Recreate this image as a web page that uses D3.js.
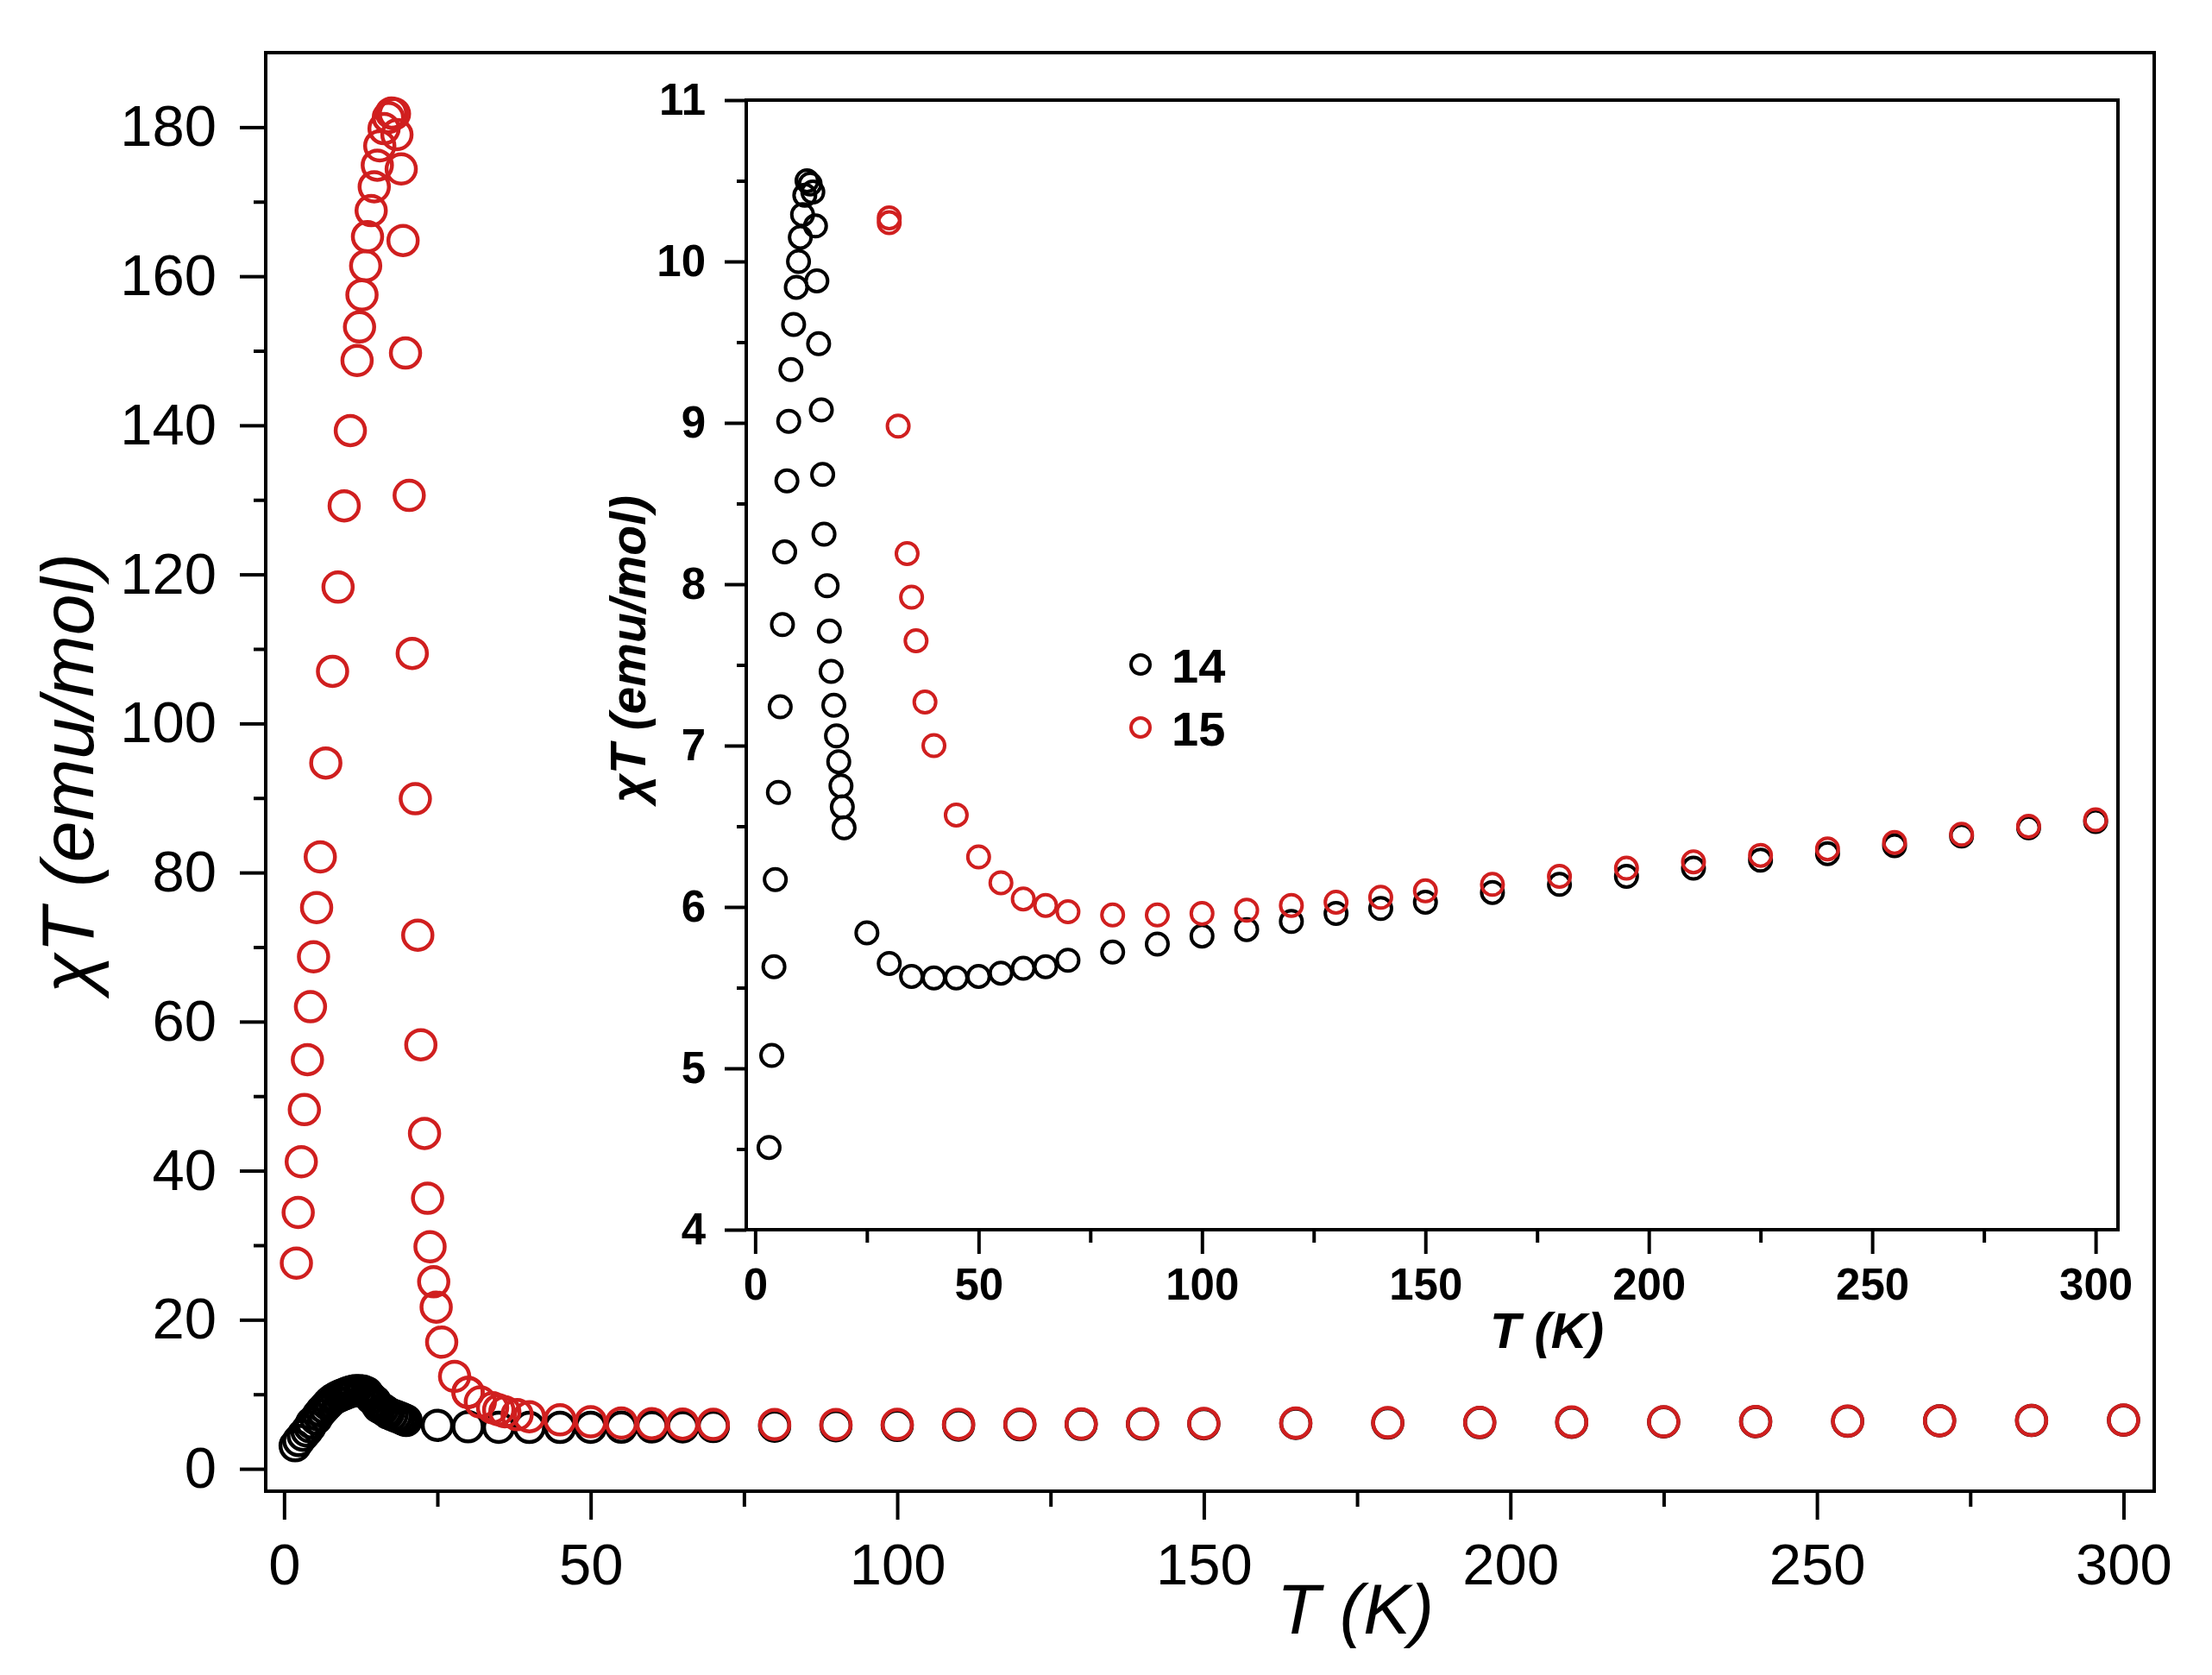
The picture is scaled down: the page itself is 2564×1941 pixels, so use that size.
<!doctype html>
<html>
  <head>
    <script src="https://cdnjs.cloudflare.com/ajax/libs/d3/7.8.5/d3.min.js" type="text/JavaScript"></script>
    <style>
      body { margin: 0; background: #fff; }
      text { font-family: "Liberation Sans", Arial, sans-serif; }
    </style>
  </head>
  <body>
    <svg width="2564" height="1941" style="display:block;background:#fff"></svg>
    <script>
      // sample 15 (red)
      var tRed = [2.0, 2.3, 2.8, 3.3, 3.8, 4.3, 4.8, 5.3, 5.9, 6.8, 7.9, 8.8, 9.8, 10.8, 11.9, 12.3, 12.7, 13.3, 13.6, 14.2,
        14.7, 15.2, 15.6, 16.3, 17.0, 17.5, 18.0, 18.4, 19.1, 19.4, 19.8, 20.4, 20.9, 21.4, 21.8, 22.3, 22.9, 23.4, 23.8, 24.4,
        24.8, 25.7, 27.8, 30, 30, 32, 34, 35, 36, 38, 40, 45, 50, 55, 60, 65, 70, 80, 90, 100,
        110, 120, 130, 140, 150, 165, 180, 195, 210, 225, 240, 255, 270, 285, 300];
      var chiRed = [27.6, 34.4, 41.2, 48.2, 54.9, 62.0, 68.7, 75.3, 82.1, 94.7, 107.0, 118.3, 129.2, 139.3, 148.7, 153.2, 157.5, 161.4, 165.3, 168.8,
        172.0, 174.9, 177.5, 179.8, 181.3, 181.9, 181.8, 179.0, 174.4, 164.8, 149.7, 130.6, 109.4, 89.9, 71.6, 56.9, 45.0, 36.3, 29.8, 25.1,
        21.7, 17.0, 12.4, 10.27, 10.24, 8.98, 8.19, 7.92, 7.65, 7.27, 7.00, 6.57, 6.31, 6.15, 6.05, 6.01, 5.97, 5.95, 5.95, 5.96,
        5.98, 6.01, 6.03, 6.06, 6.10, 6.14, 6.19, 6.24, 6.28, 6.32, 6.36, 6.40, 6.45, 6.50, 6.54];

      // sample 14 (black)
      var tBlack = [1.8, 2.4, 3.1, 3.7, 4.2, 4.5, 5.2, 5.6, 6.1, 6.6, 7.1, 7.5, 8.0, 8.6, 9.2, 9.7, 10.1, 10.6, 11.1, 11.6,
        12.3, 12.9, 13.5, 13.8, 14.2, 14.8, 15.1, 15.4, 16.1, 16.6, 17.0, 17.6, 18.2, 18.7, 19.2, 19.5, 19.9, 25, 30, 35,
        40, 45, 50, 55, 60, 65, 70, 80, 90, 100, 110, 120, 130, 140, 150, 165, 180, 195, 210, 225,
        240, 255, 270, 285, 300];
      var chiBlack = [3.1, 3.8, 4.51, 5.08, 5.63, 6.17, 6.71, 7.24, 7.75, 8.20, 8.64, 9.01, 9.33, 9.61, 9.84, 10.00, 10.15, 10.29, 10.41, 10.50,
        10.48, 10.43, 10.22, 9.88, 9.49, 9.08, 8.68, 8.31, 7.99, 7.71, 7.46, 7.25, 7.06, 6.90, 6.75, 6.62, 6.49, 5.84, 5.65, 5.57,
        5.56, 5.56, 5.57, 5.59, 5.62, 5.63, 5.67, 5.72, 5.77, 5.82, 5.86, 5.91, 5.96, 5.99, 6.03, 6.09, 6.14, 6.19, 6.24, 6.29,
        6.33, 6.38, 6.44, 6.49, 6.53];

      var mainXTicks = [0, 50, 100, 150, 200, 250, 300];
      var mainXMinor = [25, 75, 125, 175, 225, 275];
      var mainYTicks = [0, 20, 40, 60, 80, 100, 120, 140, 160, 180];
      var mainYMinor = [10, 30, 50, 70, 90, 110, 130, 150, 170];
      var insetXTicks = [0, 50, 100, 150, 200, 250, 300];
      var insetXMinor = [25, 75, 125, 175, 225, 275];
      var insetYTicks = [4, 5, 6, 7, 8, 9, 10, 11];
      var insetYMinor = [4.5, 5.5, 6.5, 7.5, 8.5, 9.5, 10.5];
      var legendLabels = ["14", "15"];
      var seriesColors = ["#000000", "#d01f1f"];

      var black = tBlack.map((t, i) => ({t: t, v: chiBlack[i]}));
      var red = tRed.map((t, i) => ({t: t, v: chiRed[i]}));

      var svg = d3.select("svg");

      // ---------- main plot ----------
      var mx = d3.scaleLinear().domain([-3, 305]).range([308, 2497]);
      var my = d3.scaleLinear().domain([-3, 190]).range([1728, 61]);

      function styleAxis(g, size, weight) {
        g.select(".domain").remove();
        g.selectAll("line").attr("stroke", "#000").attr("stroke-width", 4);
        g.selectAll("text").attr("fill", "#000")
          .style("font-size", size + "px").style("font-weight", weight);
      }

      svg.append("g").attr("transform", "translate(0,1728)")
        .call(d3.axisBottom(mx).tickValues(mainXTicks).tickSize(33).tickPadding(27).tickFormat(d3.format("d")))
        .call(g => styleAxis(g, 67, "normal"));
      svg.append("g").attr("transform", "translate(0,1728)")
        .call(d3.axisBottom(mx).tickValues(mainXMinor).tickSize(18).tickFormat(""))
        .call(g => styleAxis(g, 67, "normal"));
      svg.append("g").attr("transform", "translate(308,0)")
        .call(d3.axisLeft(my).tickValues(mainYTicks).tickSize(30).tickPadding(27).tickFormat(d3.format("d")))
        .call(g => styleAxis(g, 67, "normal"));
      svg.append("g").attr("transform", "translate(308,0)")
        .call(d3.axisLeft(my).tickValues(mainYMinor).tickSize(14).tickFormat(""))
        .call(g => styleAxis(g, 67, "normal"));

      svg.append("rect")
        .attr("x", mx.range()[0]).attr("y", my.range()[1])
        .attr("width", mx.range()[1] - mx.range()[0])
        .attr("height", my.range()[0] - my.range()[1])
        .attr("fill", "none").attr("stroke", "#000").attr("stroke-width", 4);

      svg.append("text")
        .attr("x", 1480).attr("y", 1893)
        .style("font-size", "82px").style("font-style", "italic")
        .text("T (K)");
      svg.append("text")
        .attr("transform", "translate(108,896) rotate(-90)")
        .attr("text-anchor", "middle")
        .style("font-size", "86px").style("font-style", "italic")
        .text("χT (emu/mol)");

      var mainPts = svg.append("g");
      [black, red].forEach((s, k) => {
        mainPts.append("g").selectAll("circle")
          .data(s)
          .enter()
          .append("circle")
            .attr("cx", d => mx(d.t))
            .attr("cy", d => my(d.v))
            .attr("r", 17)
            .attr("fill", "none")
            .attr("stroke", seriesColors[k])
            .attr("stroke-width", 4.5);
      });

      // ---------- inset ----------
      var ix = d3.scaleLinear().domain([-2, 305]).range([865, 2455]);
      var iy = d3.scaleLinear().domain([4, 11]).range([1425, 116]);

      svg.append("g").attr("transform", "translate(0,1425)")
        .call(d3.axisBottom(ix).tickValues(insetXTicks).tickSize(28).tickPadding(17).tickFormat(d3.format("d")))
        .call(g => styleAxis(g, 51, "bold"));
      svg.append("g").attr("transform", "translate(0,1425)")
        .call(d3.axisBottom(ix).tickValues(insetXMinor).tickSize(15).tickFormat(""))
        .call(g => styleAxis(g, 51, "bold"));
      svg.append("g").attr("transform", "translate(865,0)")
        .call(d3.axisLeft(iy).tickValues(insetYTicks).tickSize(25).tickPadding(22).tickFormat(d3.format("d")))
        .call(g => styleAxis(g, 51, "bold"));
      svg.append("g").attr("transform", "translate(865,0)")
        .call(d3.axisLeft(iy).tickValues(insetYMinor).tickSize(11).tickFormat(""))
        .call(g => styleAxis(g, 51, "bold"));

      svg.append("clipPath").attr("id", "insetClip")
        .append("rect")
          .attr("x", ix.range()[0]).attr("y", iy.range()[1])
          .attr("width", ix.range()[1] - ix.range()[0])
          .attr("height", iy.range()[0] - iy.range()[1]);

      var insetPts = svg.append("g").attr("clip-path", "url(#insetClip)");
      [black, red].forEach((s, k) => {
        insetPts.append("g").selectAll("circle")
          .data(s)
          .enter()
          .append("circle")
            .attr("cx", d => ix(d.t))
            .attr("cy", d => iy(d.v))
            .attr("r", 12.5)
            .attr("fill", "none")
            .attr("stroke", seriesColors[k])
            .attr("stroke-width", 4);
      });

      svg.append("rect")
        .attr("x", ix.range()[0]).attr("y", iy.range()[1])
        .attr("width", ix.range()[1] - ix.range()[0])
        .attr("height", iy.range()[0] - iy.range()[1])
        .attr("fill", "none").attr("stroke", "#000").attr("stroke-width", 4);

      svg.append("text")
        .attr("x", 1727).attr("y", 1562)
        .style("font-size", "58px").style("font-style", "italic").style("font-weight", "bold")
        .text("T (K)");
      svg.append("text")
        .attr("transform", "translate(748,752) rotate(-90)")
        .attr("text-anchor", "middle")
        .style("font-size", "57px").style("font-style", "italic").style("font-weight", "bold")
        .text("χT (emu/mol)");

      // legend
      var legend = svg.append("g").selectAll("g")
        .data(legendLabels)
        .enter()
        .append("g")
          .attr("transform", (d, i) => "translate(1322," + (770 + i * 73) + ")");
      legend.append("circle")
        .attr("r", 11)
        .attr("fill", "none")
        .attr("stroke", (d, i) => seriesColors[i])
        .attr("stroke-width", 4);
      legend.append("text")
        .attr("x", 36).attr("y", 21)
        .style("font-size", "56px").style("font-weight", "bold")
        .text(d => d);
    </script>
  </body>
</html>
